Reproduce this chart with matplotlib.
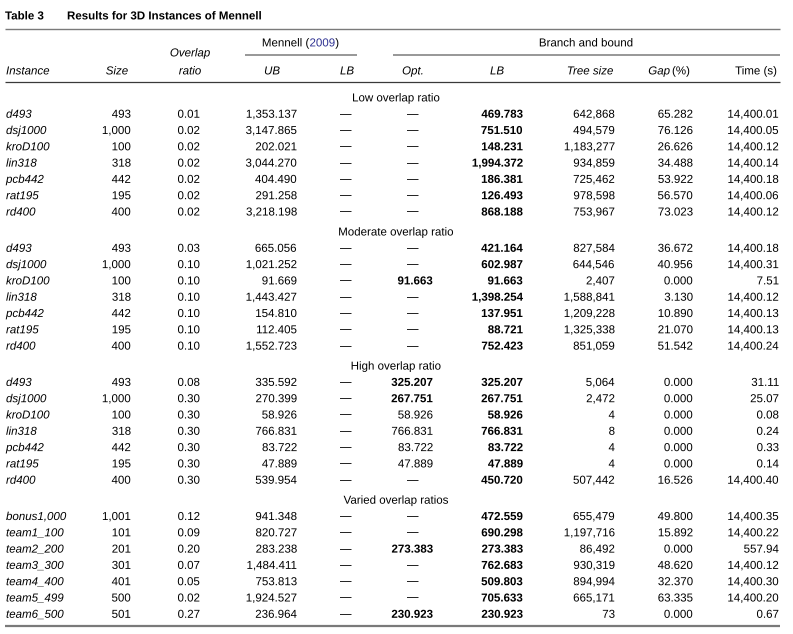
import matplotlib
matplotlib.use("Agg")
import matplotlib.pyplot as plt
import matplotlib.patheffects as pe
from matplotlib import font_manager

# pick a narrow sans if one is around
names = set(f.name for f in font_manager.fontManager.ttflist)
if "Liberation Sans Narrow" in names:
    FONT = "Liberation Sans Narrow"
    FS = 8.9
elif "DejaVu Sans Condensed" in names:
    FONT = "DejaVu Sans Condensed"
    FS = 8.4
else:
    FONT = "Liberation Sans"
    FS = 8.3

DASH = "\u2014"

# ---- data ----
std_instances = ["d493", "dsj1000", "kroD100", "lin318", "pcb442", "rat195", "rd400"]
std_sizes = ["493", "1,000", "100", "318", "442", "195", "400"]

low_ratio = ["0.01", "0.02", "0.02", "0.02", "0.02", "0.02", "0.02"]
low_ub = ["1,353.137", "3,147.865", "202.021", "3,044.270", "404.490", "291.258", "3,218.198"]
low_opt = [DASH] * 7
low_lb = ["469.783", "751.510", "148.231", "1,994.372", "186.381", "126.493", "868.188"]
low_tree = ["642,868", "494,579", "1,183,277", "934,859", "725,462", "978,598", "753,967"]
low_gap = ["65.282", "76.126", "26.626", "34.488", "53.922", "56.570", "73.023"]
low_time = ["14,400.01", "14,400.05", "14,400.12", "14,400.14", "14,400.18", "14,400.06", "14,400.12"]

mod_ratio = ["0.03", "0.10", "0.10", "0.10", "0.10", "0.10", "0.10"]
mod_ub = ["665.056", "1,021.252", "91.669", "1,443.427", "154.810", "112.405", "1,552.723"]
mod_opt = [DASH, DASH, "91.663", DASH, DASH, DASH, DASH]
mod_lb = ["421.164", "602.987", "91.663", "1,398.254", "137.951", "88.721", "752.423"]
mod_tree = ["827,584", "644,546", "2,407", "1,588,841", "1,209,228", "1,325,338", "851,059"]
mod_gap = ["36.672", "40.956", "0.000", "3.130", "10.890", "21.070", "51.542"]
mod_time = ["14,400.18", "14,400.31", "7.51", "14,400.12", "14,400.13", "14,400.13", "14,400.24"]

high_ratio = ["0.08", "0.30", "0.30", "0.30", "0.30", "0.30", "0.30"]
high_ub = ["335.592", "270.399", "58.926", "766.831", "83.722", "47.889", "539.954"]
high_opt = ["325.207", "267.751", "58.926", "766.831", "83.722", "47.889", DASH]
high_opt_bold = [True, True, False, False, False, False, False]
high_lb = ["325.207", "267.751", "58.926", "766.831", "83.722", "47.889", "450.720"]
high_tree = ["5,064", "2,472", "4", "8", "4", "4", "507,442"]
high_gap = ["0.000", "0.000", "0.000", "0.000", "0.000", "0.000", "16.526"]
high_time = ["31.11", "25.07", "0.08", "0.24", "0.33", "0.14", "14,400.40"]

var_instances = ["bonus1,000", "team1_100", "team2_200", "team3_300", "team4_400", "team5_499", "team6_500"]
var_sizes = ["1,001", "101", "201", "301", "401", "500", "501"]
var_ratio = ["0.12", "0.09", "0.20", "0.07", "0.05", "0.02", "0.27"]
var_ub = ["941.348", "820.727", "283.238", "1,484.411", "753.813", "1,924.527", "236.964"]
var_opt = [DASH, DASH, "273.383", DASH, DASH, DASH, "230.923"]
var_lb = ["472.559", "690.298", "273.383", "762.683", "509.803", "705.633", "230.923"]
var_tree = ["655,479", "1,197,716", "86,492", "930,319", "894,994", "665,171", "73"]
var_gap = ["49.800", "15.892", "0.000", "48.620", "32.370", "63.335", "0.000"]
var_time = ["14,400.35", "14,400.22", "557.94", "14,400.12", "14,400.30", "14,400.20", "0.67"]

sections = [
    ("Low overlap ratio", std_instances, std_sizes, low_ratio, low_ub, low_opt, None,
     low_lb, low_tree, low_gap, low_time),
    ("Moderate overlap ratio", std_instances, std_sizes, mod_ratio, mod_ub, mod_opt, None,
     mod_lb, mod_tree, mod_gap, mod_time),
    ("High overlap ratio", std_instances, std_sizes, high_ratio, high_ub, high_opt, high_opt_bold,
     high_lb, high_tree, high_gap, high_time),
    ("Varied overlap ratios", var_instances, var_sizes, var_ratio, var_ub, var_opt, None,
     var_lb, var_tree, var_gap, var_time),
]

# ---- drawing ----
W, H = 793, 634
fig = plt.figure(figsize=(W / 100, H / 100), dpi=100)
ax = fig.add_axes([0, 0, 1, 1])
ax.set_xlim(0, W)
ax.set_ylim(H, 0)
ax.axis("off")

INK = "#000000"
BLUE = "#2e3192"
BASE = 3.4  # distance from text middle to baseline, px
# drawing text through the path renderer keeps every baseline exact
# (bitmap text gets nudged a pixel when a comma hangs below the line)
PE = [pe.Normal()]


def put(x, y, s, ha="left", bold=False, italic=False, color=INK, fs=None):
    # thin em dashes vanish as paths, so those stay plain bitmap text
    effects = None if s == DASH else PE
    return ax.text(x, y + BASE, s, ha=ha, va="baseline", fontsize=fs or FS, color=color,
                   fontfamily=FONT, path_effects=effects,
                   fontweight="bold" if bold else "normal",
                   fontstyle="italic" if italic else "normal")


# title
put(5, 16, "Table 3", bold=True)
put(67, 16, "Results for 3D Instances of Mennell", bold=True)

# rules
ax.plot([5, 780], [28.5, 28.5], color="#7a7a7a", lw=1.0, solid_capstyle="butt")
ax.plot([245, 357], [54.5, 54.5], color="#7a7a7a", lw=1.1, solid_capstyle="butt")
ax.plot([393, 780], [54.5, 54.5], color="#7a7a7a", lw=1.1, solid_capstyle="butt")
ax.plot([5, 780], [82, 82], color="#3a3a3a", lw=0.9, solid_capstyle="butt")
ax.plot([5, 780], [626, 626], color="#7a7a7a", lw=1.6, solid_capstyle="butt")

# Mennell (2009) with blue year, pieces laid side by side
fig.canvas.draw()
r = fig.canvas.get_renderer()
parts = [("Mennell (", INK), ("2009", BLUE), (")", INK)]
widths = []
for s, c in parts:
    tt = put(0, 0, s)
    widths.append(tt.get_window_extent(renderer=r).width)
    tt.remove()
x0 = 300.5 - sum(widths) / 2
for (s, c), w in zip(parts, widths):
    put(x0, 43, s, color=c)
    x0 += w
put(586, 43, "Branch and bound", ha="center")

# column headers
put(190, 53, "Overlap", ha="center", italic=True)
put(6, 71, "Instance", italic=True)
put(128, 71, "Size", ha="right", italic=True)
put(190, 71, "ratio", ha="center", italic=True)
put(272, 71, "UB", ha="center", italic=True)
put(347, 71, "LB", ha="center", italic=True)
put(413, 71, "Opt.", ha="center", italic=True)
put(497, 71, "LB", ha="center", italic=True)
put(590, 71, "Tree size", ha="center", italic=True)
put(670, 71, "Gap", ha="right", italic=True)
put(672, 71, "(%)", ha="left")
put(777, 71, "Time (s)", ha="right")

# body
y = 98
step = 16.3
for (name, inst, size, ratio, ub, opt, opt_bold, lb, tree, gap, tm) in sections:
    put(396, y, name, ha="center")
    y += step
    for i in range(len(inst)):
        put(6, y, inst[i], italic=True)
        put(131, y, size[i], ha="right")
        put(200, y, ratio[i], ha="right")
        put(297, y, ub[i], ha="right")
        put(346, y, DASH, ha="center")
        if opt[i] == DASH:
            put(413, y, DASH, ha="center")
        else:
            b = True if opt_bold is None else opt_bold[i]
            put(433, y, opt[i], ha="right", bold=b)
        put(523, y, lb[i], ha="right", bold=True)
        put(615, y, tree[i], ha="right")
        put(693, y, gap[i], ha="right")
        put(779, y, tm[i], ha="right")
        y += step
    y += 20 - step

fig.savefig("out.png", dpi=100)
